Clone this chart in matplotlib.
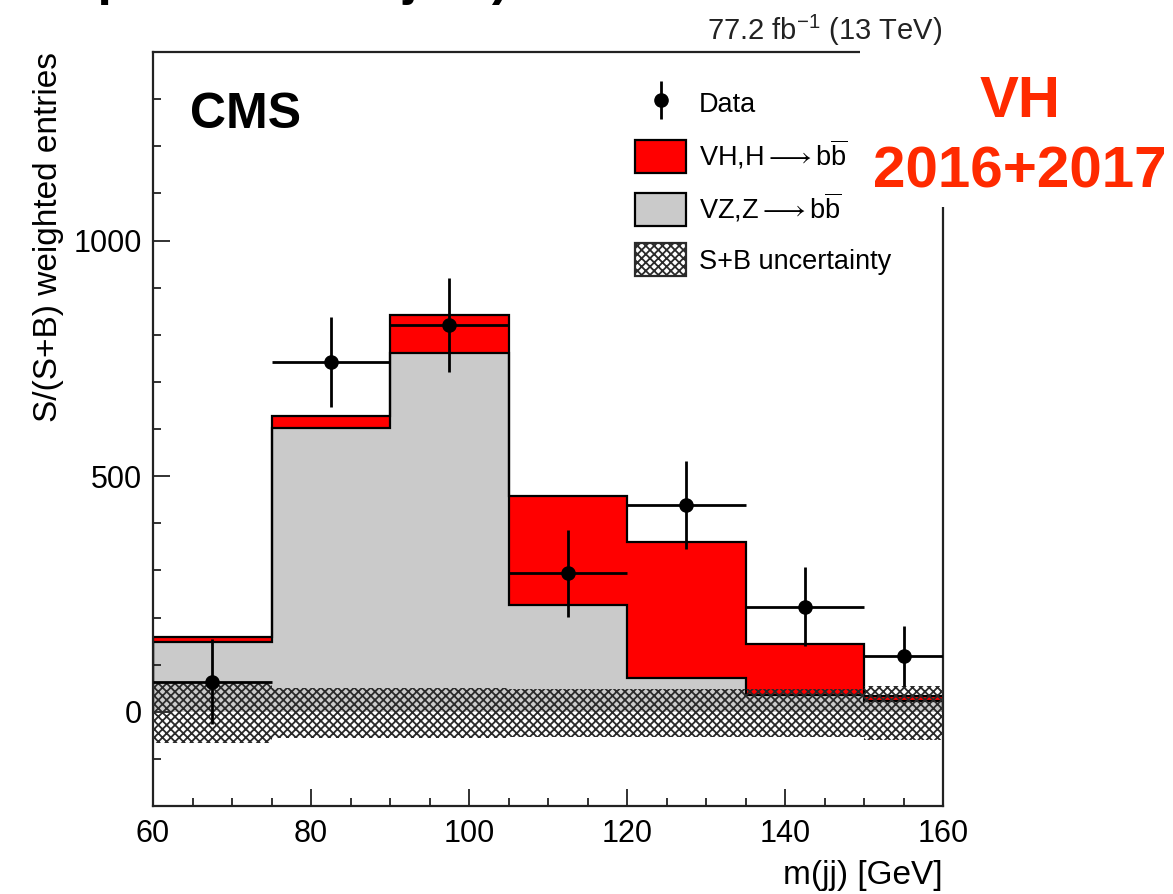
import numpy as np
import matplotlib
matplotlib.use("Agg")
import matplotlib.pyplot as plt
from matplotlib.lines import Line2D
from matplotlib.patches import Patch, Rectangle

plt.rcParams['font.family'] = ['Liberation Sans', 'DejaVu Sans']
plt.rcParams['mathtext.fontset'] = 'custom'
plt.rcParams['mathtext.rm'] = 'Liberation Sans'
plt.rcParams['mathtext.it'] = 'Liberation Sans:italic'
plt.rcParams['mathtext.bf'] = 'Liberation Sans:bold'
plt.rcParams['hatch.linewidth'] = 1.3
plt.rcParams['hatch.color'] = '#2a2a2a'

# bins of m(jj) [GeV]
edges = [60, 75, 90, 105, 120, 135, 150, 160]
# stacked components
vz = [149, 603, 761, 227, 71, 36, 22]
vh = [10, 24, 80, 231, 289, 108, 12]
# S+B uncertainty band (lower / upper)
unc_lo = [-67, -55, -55, -54, -54, -54, -59]
unc_hi = [62, 50, 50, 49, 49, 49, 55]
# data points
data_x = [67.5, 82.5, 97.5, 112.5, 127.5, 142.5, 155]
data_y = [64, 742, 820, 294, 439, 223, 119]
data_err = [90, 96, 100, 92, 93, 84, 64]

edges = np.array(edges)
vz = np.array(vz)
vh = np.array(vh)
tot = vz + vh
xerr = np.diff(edges) / 2

fig = plt.figure(figsize=(11.73, 8.94), dpi=100)
ax = fig.add_axes([153/1173, 1 - 806/894, 790/1173, 754/894])

# stacked histograms
ax.stairs(tot, edges, baseline=0, fill=True, color='#ff0000', zorder=1)
ax.stairs(vz, edges, baseline=0, fill=True, color='#cacaca', zorder=1.5)
ax.stairs(tot, edges, baseline=0, color='k', lw=1.6, zorder=2)
ax.stairs(vz, edges, baseline=0, color='k', lw=1.6, zorder=2)

# uncertainty band
ax.stairs(unc_hi, edges, baseline=unc_lo, fill=True, facecolor='none',
          edgecolor='#2a2a2a', hatch='xxxx', lw=0, zorder=3)

# data
ax.errorbar(data_x, data_y, xerr=xerr, yerr=data_err, fmt='o', color='k',
            ms=9.5, elinewidth=2.0, capsize=0, zorder=4)

ax.set_xlim(60, 160)
ax.set_ylim(-200, 1400)
ax.set_xticks(np.arange(60, 161, 20))
ax.set_xticks(np.arange(60, 161, 5), minor=True)
ax.set_yticks([0, 500, 1000])
ax.set_yticks(np.arange(-200, 1401, 100), minor=True)
ax.tick_params(which='both', direction='in', labelsize=22, width=1.3, color='#222222')
ax.tick_params(which='major', length=12)
ax.tick_params(which='minor', length=6)
ax.tick_params(axis='y', pad=8)
ax.tick_params(axis='x', pad=9)
for s in ax.spines.values():
    s.set_linewidth(1.6)
    s.set_color('#222222')

ax.set_xlabel('m(jj) [GeV]', fontsize=24, loc='right')
ax.xaxis.set_label_coords(1.0, -0.072)
ax.set_ylabel('S/(S+B) weighted entries', fontsize=24, loc='top')
ax.yaxis.set_label_coords(-0.113, 1.0)

ax.text(0.047, 0.899, 'CMS', transform=ax.transAxes, fontsize=36,
        fontweight='bold', ha='left', va='baseline')

# legend
h_data = (Line2D([], [], marker='|', ms=28, mew=2.0, ls='none', color='k'),
          Line2D([], [], marker='o', ms=9.5, ls='none', color='k'))
h_vh = Patch(facecolor='#ff0000', edgecolor='k', lw=1.6)
h_vz = Patch(facecolor='#cacaca', edgecolor='k', lw=1.6)
h_unc = Patch(facecolor='white', edgecolor='#2a2a2a', hatch='xxxx', lw=1.6)
leg = ax.legend([h_data, h_vh, h_vz, h_unc],
                [r'Data', r'VH,H${\longrightarrow}$b$\overline{\mathrm{b}}$',
                 r'VZ,Z${\longrightarrow}$b$\overline{\mathrm{b}}$', r'S+B uncertainty'],
                loc='upper left', bbox_to_anchor=(0.597, 0.968), frameon=False,
                fontsize=19.5, handlelength=1.85, handleheight=1.48,
                labelspacing=0.66, handletextpad=0.5, borderaxespad=0)
leg.set_zorder(6)

# white patch over top-right corner of the frame
fig.patches.append(Rectangle((860/1173, 1 - 207/894), 313/1173, 207/894,
                             transform=fig.transFigure, facecolor='white',
                             edgecolor='none', zorder=10))

fig.text(942/1173, 1 - 40/894, r'77.2 fb$^{\mathregular{-1}}$ (13 TeV)',
         fontsize=21, ha='right', va='baseline', color='#222222', zorder=11)

fig.text(1020/1173, 1 - 117/894, 'VH', color='#ff2a00', fontsize=42,
         fontweight='bold', ha='center', va='baseline', zorder=11)
fig.text(1020/1173, 1 - 187/894, '2016+2017', color='#ff2a00', fontsize=42,
         fontweight='bold', ha='center', va='baseline', zorder=11)

# cut-off slide title at top
fig.text(12/1173, 1 + 6/894, '2 leptons and b jets)', fontsize=37,
         fontweight='bold', ha='left', va='baseline', color='k', zorder=11)

fig.savefig('out.png', dpi=100)
